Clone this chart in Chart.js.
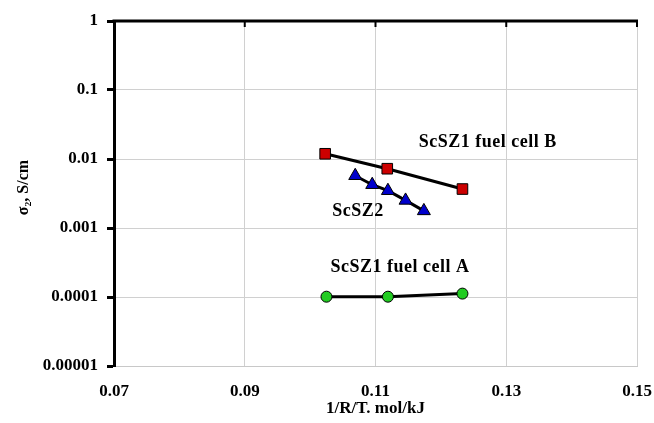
<!DOCTYPE html>
<html>
<head>
<meta charset="utf-8">
<script src="https://cdn.jsdelivr.net/npm/chart.js@4/dist/chart.umd.min.js"></script>
<style>
body { margin: 0; background: #fff; }
#wrap { width: 654px; height: 423px; }
</style>
</head>
<body>
<div id="wrap"><canvas id="mycanvas" width="654" height="423"></canvas></div>
<script>
// values
var cellB_x = [0.1023, 0.1118, 0.1233];
var cellB_y = [0.0119, 0.00723, 0.00367];
var sz2_x = [0.1069, 0.1095, 0.1119, 0.1146, 0.1174];
var sz2_y = [0.00572, 0.00424, 0.00347, 0.00251, 0.00177];
var cellA_x = [0.1025, 0.1119, 0.1233];
var cellA_y = [0.000101, 0.000101, 0.000112];

var xTicks = [0.07, 0.09, 0.11, 0.13, 0.15];
var yTicks = [0.00001, 0.0001, 0.001, 0.01, 0.1, 1];
var yTickLabels = ["0.00001", "0.0001", "0.001", "0.01", "0.1", "1"];

// series captions, placed at data coordinates (left edge, middle)
var captions = ["ScSZ1 fuel cell B", "ScSZ2", "ScSZ1 fuel cell A"];
var captionX = [0.1166, 0.1034, 0.1031];
var captionY = [0.0173, 0.00177, 0.000273];

function pts(xs, ys) {
	var out = [];
	for (var i in xs) {
		out.push({ x: xs[i], y: ys[i] });
	}
	return out;
}

var FONT = "'Liberation Serif', 'Times New Roman', serif";

var framePlugin = {
	id: "frame",
	afterDatasetsDraw: function(chart) {
		var ctx = chart.ctx;
		var a = chart.chartArea;
		var xs = chart.scales.x;
		var ys = chart.scales.y;
		ctx.save();
		// thick top axis with small ticks pointing down
		ctx.strokeStyle = "#000";
		ctx.lineWidth = 3;
		ctx.beginPath();
		ctx.moveTo(a.left - 1.5, a.top);
		ctx.lineTo(a.right + 1, a.top);
		ctx.stroke();
		ctx.lineWidth = 2;
		for (var i in xTicks) {
			var px = xs.getPixelForValue(xTicks[i]);
			ctx.beginPath();
			ctx.moveTo(px, a.top);
			ctx.lineTo(px, a.top + 6);
			ctx.stroke();
		}
		// captions
		ctx.fillStyle = "#000";
		ctx.font = "bold 18px " + FONT;
		ctx.letterSpacing = "0.5px";
		ctx.textBaseline = "middle";
		ctx.textAlign = "left";
		for (var j in captions) {
			ctx.fillText(captions[j], xs.getPixelForValue(captionX[j]), ys.getPixelForValue(captionY[j]));
		}
		ctx.restore();
	}
};

var chartdata = {
	datasets: [
		{
			label: "ScSZ1 fuel cell B",
			data: pts(cellB_x, cellB_y),
			showLine: true,
			borderColor: "#000",
			borderWidth: 3,
			pointStyle: "rect",
			pointRadius: 7.5,
			pointBackgroundColor: "#cc0000",
			pointBorderColor: "#000",
			pointBorderWidth: 1
		},
		{
			label: "ScSZ2",
			data: pts(sz2_x, sz2_y),
			showLine: true,
			borderColor: "#000",
			borderWidth: 3,
			pointStyle: "triangle",
			pointRadius: 7.5,
			pointBackgroundColor: "#0000cc",
			pointBorderColor: "#000",
			pointBorderWidth: 1
		},
		{
			label: "ScSZ1 fuel cell A",
			data: pts(cellA_x, cellA_y),
			showLine: true,
			borderColor: "#000",
			borderWidth: 3,
			pointStyle: "circle",
			pointRadius: 5.5,
			pointBackgroundColor: "#22cc22",
			pointBorderColor: "#000",
			pointBorderWidth: 1
		}
	]
};

var ctx = document.getElementById("mycanvas");

var LineGraph = new Chart(ctx, {
	type: "scatter",
	data: chartdata,
	plugins: [framePlugin],
	options: {
		responsive: false,
		animation: false,
		layout: { padding: { top: 21, right: 17, left: 0, bottom: 0 } },
		plugins: {
			legend: { display: false },
			tooltip: { enabled: false }
		},
		scales: {
			x: {
				type: "linear",
				min: 0.07,
				max: 0.15,
				afterBuildTicks: function(s) {
					s.ticks = xTicks.map(function(v) { return { value: v }; });
				},
				afterFit: function(s) {
					s.height = 57;
					s.paddingLeft = 0;
					s.paddingRight = 0;
				},
				ticks: {
					color: "#000",
					padding: 15,
					font: { family: FONT, size: 17, weight: "bold" },
					callback: function(v) { return String(Math.round(v * 100) / 100); }
				},
				grid: { color: "#d0d0d0", lineWidth: 1, drawTicks: false },
				border: { color: "#c8c8c8", width: 1 },
				title: {
					display: true,
					text: "1/R/T. mol/kJ",
					color: "#000",
					padding: { top: 2, bottom: 4 },
					font: { family: FONT, size: 17, weight: "bold" }
				}
			},
			y: {
				type: "logarithmic",
				min: 0.00001,
				max: 1,
				afterBuildTicks: function(s) {
					s.ticks = yTicks.map(function(v) { return { value: v }; });
				},
				afterFit: function(s) {
					s.width = 114;
					s.paddingTop = 0;
					s.paddingBottom = 0;
				},
				ticks: {
					color: "#000",
					padding: 9,
					font: { family: FONT, size: 17, weight: "bold" },
					callback: function(v) {
						var k = yTicks.indexOf(v);
						return k >= 0 ? yTickLabels[k] : "";
					}
				},
				grid: {
					color: "#d0d0d0",
					lineWidth: 1,
					tickLength: 7,
					tickColor: "#000",
					tickWidth: 3
				},
				border: { color: "#000", width: 3 },
				title: {
					display: true,
					text: "   σ₂, S/cm",
					color: "#000",
					padding: { top: 14, bottom: 0 },
					font: { family: FONT, size: 16, weight: "bold" }
				}
			}
		}
	}
});
</script>
</body>
</html>
